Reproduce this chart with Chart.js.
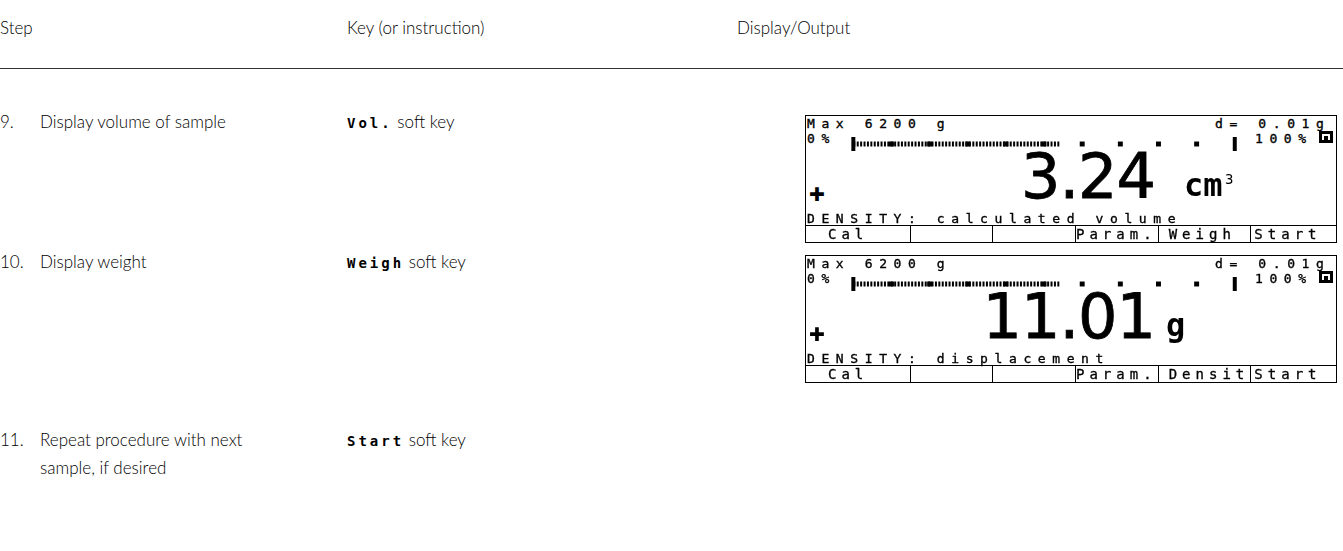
<!DOCTYPE html>
<html><head><meta charset="utf-8">
<script src="https://cdn.jsdelivr.net/npm/chart.js@4.4.1/dist/chart.umd.min.js"></script>
<style>
html,body{margin:0;padding:0;background:#fff;}
#page{position:relative;width:1343px;height:551px;overflow:hidden;font-family:Lato,"Open Sans",sans-serif;font-weight:300;color:#000;}
.t{position:absolute;font-size:17px;line-height:20px;white-space:nowrap;}
.rule{position:absolute;left:0;top:68px;width:1343px;height:0;border-top:1px solid #333;}
.key{font-family:"DejaVu Sans Mono",monospace;font-weight:bold;font-size:14px;letter-spacing:3px;color:#000;}
.lcd{position:absolute;left:805px;width:532px;height:128px;border:1.5px solid #000;box-sizing:border-box;font-family:"DejaVu Sans Mono",monospace;color:#000;}
.lt{position:absolute;font-size:13px;line-height:13px;letter-spacing:6.6px;white-space:pre;-webkit-text-stroke:0.35px #000;}
.big{position:absolute;right:181px;font-family:"DejaVu Sans",sans-serif;font-size:62px;line-height:58px;font-weight:normal;letter-spacing:-1px;white-space:pre;-webkit-text-stroke:0.8px #000;}
.unit{position:absolute;font-size:32px;line-height:32px;font-weight:bold;white-space:pre;}
.sup{position:absolute;font-size:14px;line-height:14px;white-space:pre;}
.plus{position:absolute;font-family:"DejaVu Sans",sans-serif;font-size:19px;line-height:19px;}
.icon{position:absolute;width:14px;height:12px;background:#000;}
.icon div{position:absolute;left:3px;top:3px;width:8px;height:6px;background:#fff;}
.icon div div{left:2px;top:2px;width:4px;height:4px;background:#000;}
.soft{position:absolute;left:0;right:0;bottom:0;height:16px;border-top:1.5px solid #000;display:flex;}
.cell{flex:1;border-left:1.5px solid #000;font-size:14px;line-height:16px;letter-spacing:5px;white-space:pre;-webkit-text-stroke:0.3px #000;}
.cell:first-child{border-left:none;}
canvas.bar{position:absolute;}
</style></head>
<body><div id="page"></div>
<script>
// ---- data ----
const columnHeaders = ["Step", "Key (or instruction)", "Display/Output"];
const stepNumbers = ["9.", "10.", "11."];
const stepTexts = [["Display volume of sample"], ["Display weight"], ["Repeat procedure with next", "sample, if desired"]];
const keysPressed = ["Vol.", "Weigh", "Start"];
const displayCapacity = ["Max 6200 g", "Max 6200 g"];
const displayReadability = ["d= 0.01g", "d= 0.01g"];
const displayValues = ["3.24", "11.01"];
const displayUnits = ["cm", "g"];
const displayUnitSup = ["3", ""];
const displayStatus = ["DENSITY: calculated volume", "DENSITY: displacement"];
const softKeyLabels = [["Cal", "", "", "Param.", "Weigh", "Start"], ["Cal", "", "", "Param.", "Densit", "Start"]];
const barTickPercents = [0, 10, 20, 30, 40, 50, 60, 70, 80, 90, 100];
const barFillPercent = [54, 54];

// ---- layout ----
const page = document.getElementById('page');
function add(cls, txt, left, top, parent) {
  const d = document.createElement('div');
  d.className = cls; d.textContent = txt;
  if (left !== null) d.style.left = left + 'px';
  d.style.top = top + 'px';
  (parent || page).appendChild(d); return d;
}
const colX = [0, 347, 737];
columnHeaders.forEach((h, i) => add('t', h, colX[i], 18));
const rule = document.createElement('div'); rule.className = 'rule'; page.appendChild(rule);

const rowTop = [112, 252, 430];
stepNumbers.forEach((n, i) => {
  add('t', n, 0, rowTop[i]);
  stepTexts[i].forEach((line, j) => add('t', line, 40, rowTop[i] + j * 28));
  const k = add('t', '', colX[1], rowTop[i]);
  const s = document.createElement('span'); s.className = 'key'; s.textContent = keysPressed[i];
  k.appendChild(s); k.appendChild(document.createTextNode(' soft key'));
});

const boxTop = [115, 255];
displayValues.forEach((v, i) => {
  const box = document.createElement('div'); box.className = 'lcd';
  box.style.top = boxTop[i] + 'px'; page.appendChild(box);
  add('lt', displayCapacity[i], 1, 1, box);
  add('lt', displayReadability[i], 409, 1, box);
  add('lt', '0%', 1, 16, box);
  add('lt', '100%', 449, 16, box);
  const ic = add('icon', '', 513, 15, box);
  const inner = document.createElement('div'); ic.appendChild(inner);
  const dot = document.createElement('div'); inner.appendChild(dot);
  const cv = document.createElement('canvas'); cv.className = 'bar';
  cv.width = 430; cv.height = 20; cv.style.left = '23.5px'; cv.style.top = '16.5px';
  box.appendChild(cv);
  add('big', v, null, 32, box);
  const unitLeft = i === 0 ? 378 : 360;
  add('unit', displayUnits[i], unitLeft, 53, box);
  if (displayUnitSup[i]) add('sup', displayUnitSup[i], unitLeft + 41, 56, box);
  add('plus', '\u271A', 3, 69, box);
  add('lt', displayStatus[i], 1, 96, box);
  const soft = document.createElement('div'); soft.className = 'soft'; box.appendChild(soft);
  const pads = [22, 0, 0, 0, 10, 3];
  softKeyLabels[i].forEach((lab, j) => {
    const c = document.createElement('div'); c.className = 'cell';
    c.textContent = lab; c.style.paddingLeft = pads[j] + 'px'; soft.appendChild(c);
  });
  makeBar(cv, barFillPercent[i]);
});

function makeBar(canvas, fill) {
  const inner = barTickPercents.filter(v => v > barTickPercents[0] && v < barTickPercents[barTickPercents.length - 1]);
  const ends = [barTickPercents[0], barTickPercents[barTickPercents.length - 1]];
  new Chart(canvas, {
    type: 'scatter',
    data: { datasets: [
      { type: 'line', data: [{ x: 0, y: 0 }, { x: fill, y: 0 }], borderColor: '#000', borderWidth: 5,
        borderDash: [2, 1.4], borderCapStyle: 'butt', pointRadius: 0, clip: false },
      { data: inner.map(v => ({ x: v, y: 1 })), pointStyle: 'rect', pointRadius: 3.5,
        backgroundColor: '#000', borderColor: '#000', borderWidth: 0, clip: false },
      { data: ends.map(v => ({ x: v, y: 0.6 })), pointStyle: 'line', rotation: 90, pointRadius: 7,
        borderColor: '#000', borderWidth: 4, clip: false }
    ] },
    options: {
      responsive: false, animation: false, devicePixelRatio: 1, events: [],
      layout: { padding: 0 },
      plugins: { legend: { display: false }, tooltip: { enabled: false } },
      scales: { x: { type: 'linear', min: -3.234, max: 103.73, display: false },
                y: { min: -0.5, max: 2, display: false } }
    }
  });
}
</script>
</body></html>
